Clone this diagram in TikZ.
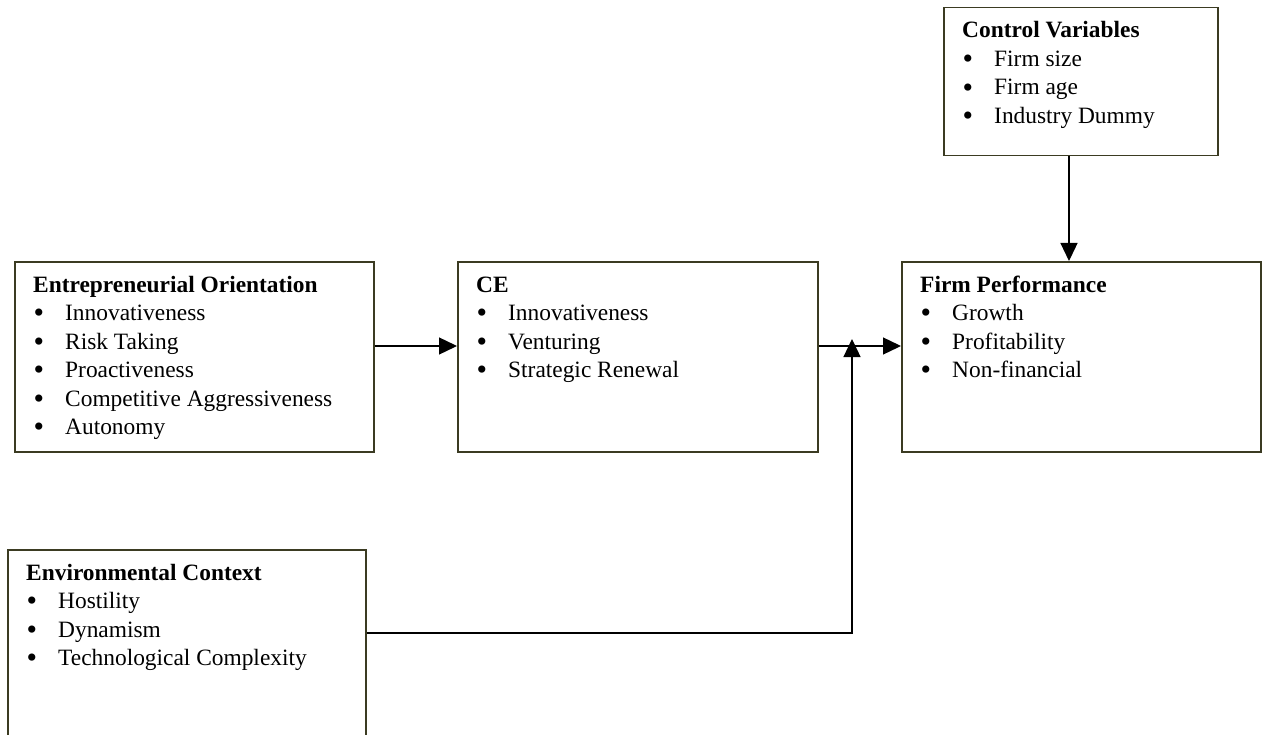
\documentclass[tikz,border=0pt]{standalone}
\usepackage{fontspec}
\setmainfont{Liberation Serif}
\usetikzlibrary{arrows.meta}
\definecolor{boxline}{HTML}{3B3B22}
\tikzset{
  box/.style={draw=boxline, line width=1.5pt, rectangle, inner sep=0pt, anchor=north west},
  boxtext/.style={anchor=base west, inner sep=0pt, font=\fontsize{23.4}{28.5}\selectfont},
  link/.style={draw=black, line width=1.3pt, -{Triangle[length=18pt,width=17pt]}},
}
% bulleted line inside a box: a larger bullet followed by the entry text
\newcommand{\bitem}[1]{\makebox[32pt][l]{\hspace*{0.5pt}\raisebox{-2.4pt}{\fontsize{30}{28.5}\selectfont\textbullet}}#1}
\begin{document}
\begin{tikzpicture}[x=1pt,y=-1pt]
  \useasboundingbox (0,0) rectangle (1265,735);
  \clip (0,0) rectangle (1265,735);

  % boxes
  \node[box, minimum width=274pt, minimum height=148pt] (ctrl) at (943,7) {};
  \node[box, minimum width=359pt, minimum height=190pt] (eo) at (14,261) {};
  \node[box, minimum width=360pt, minimum height=190pt] (ce) at (457,261) {};
  \node[box, minimum width=359pt, minimum height=190pt] (fp) at (901,261) {};
  \node[box, minimum width=358pt, minimum height=230pt] (env) at (7,549) {};

  % box contents
  \node[boxtext] (ctrl-t) at ([shift={(19,31)}]ctrl.north west) {\begin{tabular}[t]{@{}l@{}}
    \textbf{Control Variables}\\ \bitem{Firm size}\\ \bitem{Firm age}\\ \bitem{Industry Dummy}
  \end{tabular}};
  \node[boxtext] (eo-t) at ([shift={(19,31)}]eo.north west) {\begin{tabular}[t]{@{}l@{}}
    \textbf{Entrepreneurial Orientation}\\ \bitem{Innovativeness}\\ \bitem{Risk Taking}\\
    \bitem{Proactiveness}\\ \bitem{Competitive Aggressiveness}\\ \bitem{Autonomy}
  \end{tabular}};
  \node[boxtext] (ce-t) at ([shift={(19,31)}]ce.north west) {\begin{tabular}[t]{@{}l@{}}
    \textbf{CE}\\ \bitem{Innovativeness}\\ \bitem{Venturing}\\ \bitem{Strategic Renewal}
  \end{tabular}};
  \node[boxtext] (fp-t) at ([shift={(19,31)}]fp.north west) {\begin{tabular}[t]{@{}l@{}}
    \textbf{Firm Performance}\\ \bitem{Growth}\\ \bitem{Profitability}\\ \bitem{Non-financial}
  \end{tabular}};
  \node[boxtext] (env-t) at ([shift={(19,31)}]env.north west) {\begin{tabular}[t]{@{}l@{}}
    \textbf{Environmental Context}\\ \bitem{Hostility}\\ \bitem{Dynamism}\\ \bitem{Technological Complexity}
  \end{tabular}};

  % helper coordinates for connector rows and columns
  \coordinate (row) at (0,346);
  \coordinate (col) at (1069,0);
  \coordinate (envrow) at (0,633);
  \coordinate (junc) at (852,339);

  % connectors
  \draw[link] (eo.east |- row) -- (ce.west |- row);
  \draw[link] (ce.east |- row) -- (fp.west |- row);
  \draw[link] (ctrl.south -| col) -- (fp.north -| col);
  \draw[link] (env.east |- envrow) -| (junc);
\end{tikzpicture}
\end{document}
